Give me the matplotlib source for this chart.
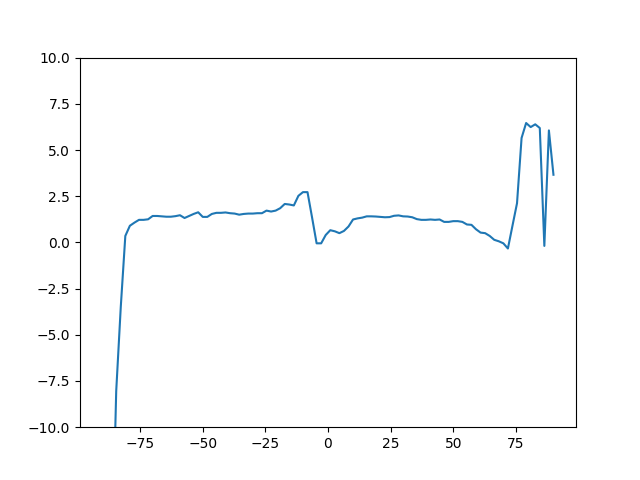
import numpy as np
import matplotlib
matplotlib.use('Agg')
import matplotlib.pyplot as plt

# sample positions (100 evenly spaced angles)
x = np.linspace(-90, 90, 100)

# values
y = [-35.0, -25.0, -18.0, -8.05, -3.5, 0.35, 0.9, 1.07, 1.22, 1.22,
     1.25, 1.43, 1.43, 1.41, 1.39, 1.39, 1.42, 1.47, 1.32, 1.43,
     1.54, 1.63, 1.38, 1.38, 1.54, 1.6, 1.6, 1.62, 1.58, 1.56,
     1.5, 1.54, 1.56, 1.56, 1.58, 1.58, 1.72, 1.67, 1.72, 1.85,
     2.08, 2.05, 2.0, 2.52, 2.72, 2.72, 1.35, -0.05, -0.05, 0.4,
     0.66, 0.6, 0.5, 0.62, 0.86, 1.24, 1.3, 1.34, 1.41, 1.41,
     1.4, 1.38, 1.36, 1.37, 1.44, 1.46, 1.41, 1.4, 1.36, 1.26,
     1.22, 1.22, 1.24, 1.22, 1.24, 1.11, 1.11, 1.15, 1.15, 1.11,
     0.97, 0.95, 0.71, 0.53, 0.5, 0.35, 0.14, 0.06, -0.05, -0.33,
     0.9, 2.12, 5.65, 6.46, 6.24, 6.39, 6.19, -0.19, 6.06, 3.66]

fig, ax = plt.subplots(figsize=(6.4, 4.8), dpi=100)
ax.plot(x, y)
ax.set_ylim(-10, 10)

plt.savefig('out.png')
